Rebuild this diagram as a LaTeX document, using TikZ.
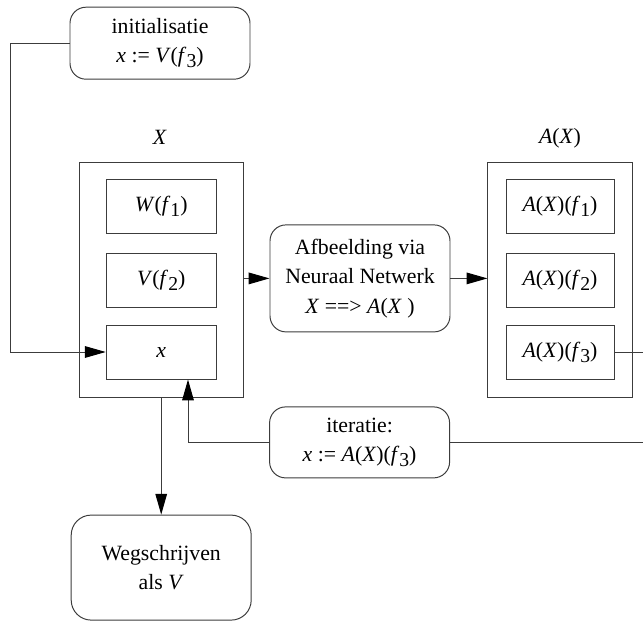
\documentclass[tikz,border=0pt]{standalone}
\usepackage{fontspec}
\setmainfont{Liberation Serif}
\usetikzlibrary{arrows.meta,calc}
\definecolor{grijs}{HTML}{3C3C3C}
\newcommand{\vi}[1]{\textit{#1}}
\newcommand{\idx}[1]{\raisebox{-0.5ex}{\fontsize{14}{14}\selectfont #1}}
\tikzset{
  pijl/.style={-{Triangle[length=5.2mm,width=2.9mm,fill=black,color=black]},grijs,line width=0.7pt},
  verb/.style={grijs,line width=0.7pt},
  kader/.style={draw=grijs,line width=0.7pt,minimum width=4.1cm,minimum height=5.875cm},
  blok/.style={draw=grijs,line width=0.7pt,minimum width=2.75cm,minimum height=1.35cm,inner sep=0pt},
  stap/.style={draw=grijs,line width=0.7pt,rounded corners=0.4cm,minimum width=4.5cm,align=center,inner sep=0pt},
  every node/.style={font=\fontsize{15.5}{21}\selectfont},
}

\begin{document}
\begin{tikzpicture}
  \useasboundingbox (0,0) rectangle (16.075,15.55);
  \clip (0,0) rectangle (16.075,15.55);
  % invoer en bewerking
  \node[stap,minimum height=1.8cm] (init) at (4.00,14.47) {initialisatie\\\vi{x} := \vi{V}(\vi{f}\idx{3})};
  \node (lX) at (4.00,12.12) {\vi{X}};
  \node[kader] (fX) at (4.03,8.56) {};
  \node[blok] (w1) at (4.03,10.38) {\vi{W}(\vi{f}\idx{1})};
  \node[blok] (v2) at (4.03,8.55) {\vi{V}(\vi{f}\idx{2})};
  \node[blok] (xx) at (4.03,6.75) {\vi{x}};
  \node[stap,minimum height=2.675cm] (afb) at (9.00,8.59) {Afbeelding via\\Neuraal Netwerk\\\vi{X} ==> \vi{A}(\vi{X} )};
  \node (lA) at (14.00,12.10) {\vi{A}(\vi{X})};
  \node[kader,minimum width=3.625cm] (fA) at (14.01,8.56) {};
  \node[blok,minimum width=2.7cm] (a1) at (14.00,10.38) {\vi{A}(\vi{X})(\vi{f}\idx{1})};
  \node[blok,minimum width=2.7cm] (a2) at (14.00,8.55) {\vi{A}(\vi{X})(\vi{f}\idx{2})};
  \node[blok,minimum width=2.7cm] (a3) at (14.00,6.75) {\vi{A}(\vi{X})(\vi{f}\idx{3})};
  \node[stap,minimum height=1.775cm] (iter) at (8.99,4.49) {iteratie:\\\vi{x} := \vi{A}(\vi{X})(\vi{f}\idx{3})};
  \node[stap,minimum height=2.625cm,rounded corners=0.5cm] (weg) at (4.03,1.36) {Wegschrijven\\als \vi{V}};
  % hulppunten
  \coordinate (links) at (0.25,0);
  \coordinate (rechts) at (16.20,0);
  \coordinate (terug) at ($(xx.south)+(0.67,0)$);
  % verbindingen
  \draw[pijl] (init.west) -- (init.west -| links) |- (xx.west);
  \draw[pijl] (afb.west -| fX.east) -- (afb.west);
  \draw[pijl] (afb.east) -- (afb.east -| fA.west);
  \draw[verb] (a3.east) -- (a3.east -| rechts) |- (iter.east);
  \draw[pijl] (iter.west) -| (terug);
  \draw[pijl] (fX.south) -- (weg.north);
\end{tikzpicture}
\end{document}
